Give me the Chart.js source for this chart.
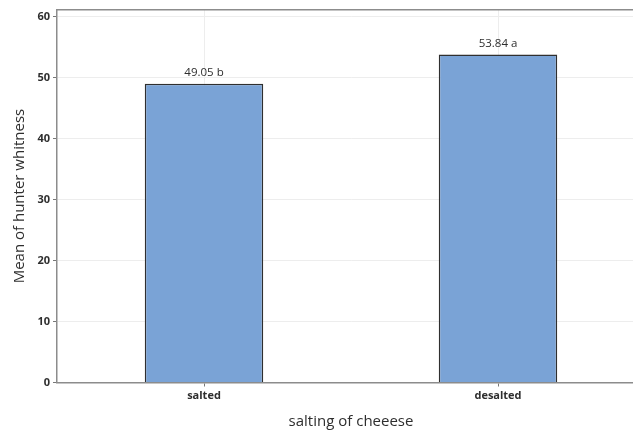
<!DOCTYPE html>
<html>
<head>
<meta charset="utf-8">
<script src="https://cdn.jsdelivr.net/npm/chart.js@4.4.1/dist/chart.umd.min.js"></script>
<style>
  html, body { margin: 0; padding: 0; background: #fff; overflow: hidden; }
  canvas { display: block; }
</style>
</head>
<body>
<canvas id="chart" width="645" height="431"></canvas>
<script>
// chart values
const categories = ['salted', 'desalted'];
const meanWhiteness = [49.05, 53.84];
const groupLetters = ['b', 'a'];
const yTicks = [0, 10, 20, 30, 40, 50, 60];

const AXIS_COLOR = '#8c8c8c';
const GRID_COLOR = '#ededed';
const TEXT_COLOR = '#2e2e2e';

// writes "value letter" over each bar
const barLabels = {
    id: 'barLabels',
    afterDatasetsDraw(chart) {
        const ctx = chart.ctx;
        const meta = chart.getDatasetMeta(0);
        ctx.save();
        ctx.font = '11.5px "Open Sans", sans-serif';
        ctx.fillStyle = TEXT_COLOR;
        ctx.textAlign = 'center';
        ctx.textBaseline = 'middle';
        meta.data.forEach((bar, i) => {
            const text = meanWhiteness[i].toFixed(2) + ' ' + groupLetters[i];
            ctx.fillText(text, bar.x, bar.y - 11);
        });
        ctx.restore();
    }
};

try {
    new Chart(document.getElementById('chart'), {
        type: 'bar',
        data: {
            labels: categories,
            datasets: [{
                data: meanWhiteness,
                backgroundColor: '#7aa3d6',
                borderColor: '#2f2f2f',
                borderWidth: 1.5,
                barPercentage: 0.403,
                categoryPercentage: 1
            }]
        },
        options: {
            responsive: false,
            animation: false,
            devicePixelRatio: 1,
            layout: { padding: { top: 9, left: 0, right: 0, bottom: 0 } },
            plugins: {
                legend: { display: false },
                tooltip: { enabled: false }
            },
            scales: {
                x: {
                    grid: {
                        offset: false,
                        color: GRID_COLOR,
                        tickColor: '#777',
                        tickLength: 4
                    },
                    border: { color: AXIS_COLOR, width: 1.5 },
                    ticks: {
                        padding: 3,
                        color: TEXT_COLOR,
                        font: { family: '"Open Sans", sans-serif', size: 11, weight: 'bold' }
                    },
                    title: {
                        display: true,
                        text: 'salting of cheeese',
                        color: TEXT_COLOR,
                        font: { family: '"Open Sans", sans-serif', size: 15 },
                        padding: 0
                    },
                    afterFit(scale) { scale.height = 48.5; }
                },
                xTop: {
                    position: 'top',
                    display: true,
                    grid: { display: false },
                    ticks: { display: false },
                    border: { color: AXIS_COLOR, width: 1.5 },
                    afterFit(scale) { scale.height = 0; }
                },
                y: {
                    min: 0,
                    max: 61.2,
                    grid: {
                        color: GRID_COLOR,
                        tickColor: '#777',
                        tickLength: 4
                    },
                    border: { color: AXIS_COLOR, width: 1.5 },
                    ticks: {
                        stepSize: 10,
                        includeBounds: false,
                        padding: 3,
                        color: TEXT_COLOR,
                        font: { family: '"Open Sans", sans-serif', size: 11, weight: 'bold' }
                    },
                    afterBuildTicks(scale) {
                        scale.ticks = yTicks.map(v => ({ value: v }));
                    },
                    title: {
                        display: true,
                        text: 'Mean of hunter whitness',
                        color: TEXT_COLOR,
                        font: { family: '"Open Sans", sans-serif', size: 15 },
                        padding: { top: 11, bottom: 0 }
                    },
                    afterFit(scale) { scale.width = 57; }
                }
            }
        },
        plugins: [barLabels]
    });
} catch (error) {
    console.error('Error drawing chart:', error.message);
}
</script>
</body>
</html>
